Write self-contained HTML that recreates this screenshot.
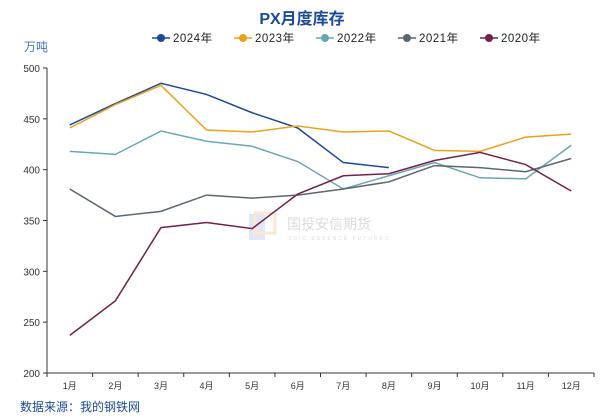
<!DOCTYPE html>
<html><head><meta charset="utf-8"><style>
body{margin:0;background:#fff;}
svg{display:block;font-family:"Liberation Sans","Noto Sans CJK SC",sans-serif;}
</style></head><body>
<svg id="c" width="604" height="417" viewBox="0 0 604 417">
<text x="302" y="24" text-anchor="middle" font-size="16" font-weight="bold" fill="#1b4a9b">PX月度库存</text>
<text x="24" y="51" font-size="12" fill="#4472c4">万吨</text>
<text x="20" y="411" font-size="12" fill="#1b4a9b">数据来源：我的钢铁网</text>
<g opacity="0.35">
<rect x="249" y="214" width="16" height="26" fill="#a8b8e0"/><rect x="255" y="213" width="20" height="20" fill="none" stroke="#f0c080" stroke-width="3"/>
<text x="287" y="229" font-size="14" fill="#999">国投安信期货</text>
<text x="288" y="240" font-size="5" fill="#999" letter-spacing="2">SDIC ESSENCE FUTURES</text>
</g>
<g id="axes"></g><g id="lines"></g><g id="legend"></g>
</svg>
<script>
const months=["1月","2月","3月","4月","5月","6月","7月","8月","9月","10月","11月","12月"];
const yTicks=[200,250,300,350,400,450,500];
const seriesNames=["2024年","2023年","2022年","2021年","2020年"];
const seriesColors=["#1b4a9b","#eaa21c","#6aa8b0","#5a6670","#74204a"];
const s2024=[444,465,485,474,456,441,407,402];
const s2023=[441,464,483,439,437,443,437,438,419,418,432,435];
const s2022=[418,415,438,428,423,408,381,394,407,392,391,424];
const s2021=[381,354,359,375,372,375,381,388,404,402,398,411];
const s2020=[237,271,343,348,342,376,394,396,409,417,405,379];
const allSeries=[s2024,s2023,s2022,s2021,s2020];
const NS="http://www.w3.org/2000/svg";
const x0=47,x1=594,yTop=68,yBot=373,vMin=200,vMax=500;
const bw=(x1-x0)/months.length;
const xs=i=>x0+bw*(i+0.5);
const ys=v=>yBot-(v-vMin)/(vMax-vMin)*(yBot-yTop);
function mk(t,a,p){const e=document.createElementNS(NS,t);for(const k in a)e.setAttribute(k,a[k]);p.appendChild(e);return e;}
const ax=document.getElementById('axes');
const yl=mk('line',{x1:x0,y1:yTop,x2:x0,y2:yBot,stroke:'#333'},ax);


const xl=mk('line',{x1:x0,y1:yBot,x2:x1,y2:yBot,stroke:'#333'},ax);


yTicks.forEach(v=>{
 mk('line',{x1:x0-4,y1:ys(v),x2:x0,y2:ys(v),stroke:'#333'},ax);
 const t=mk('text',{x:x0-7,y:ys(v)+4,'text-anchor':'end','font-size':'10',fill:'#333'},ax);
 t.textContent=v;
 
 
});
for(let i=0;i<=months.length;i++){mk('line',{x1:x0+bw*i,y1:yBot,x2:x0+bw*i,y2:yBot+4,stroke:'#333'},ax);}
months.forEach((m,i)=>{
 const t=mk('text',{x:xs(i),y:yBot+16,'text-anchor':'middle','font-size':'9',fill:'#333'},ax);
 t.textContent=m;
 
 
});
const lg=document.getElementById('lines');
allSeries.forEach((s,k)=>{
 const p=mk('polyline',{points:s.map((v,i)=>xs(i)+','+ys(v)).join(' '),fill:'none',stroke:seriesColors[k],'stroke-width':'1.5'},lg);
 
 
});
const leg=document.getElementById('legend');
const lx=[152,234,316,398,480];
seriesNames.forEach((n,k)=>{
 const g=mk('g',{},leg);
 
 
 mk('line',{x1:lx[k],y1:38,x2:lx[k]+18,y2:38,stroke:seriesColors[k],'stroke-width':'1.5'},g);
 mk('circle',{cx:lx[k]+9,cy:38,r:4,fill:seriesColors[k]},g);
 const t=mk('text',{x:lx[k]+21,y:42,'font-size':'11.5',fill:'#222','letter-spacing':'0.5'},g);
 t.textContent=n;
});
</script>
</body></html>
